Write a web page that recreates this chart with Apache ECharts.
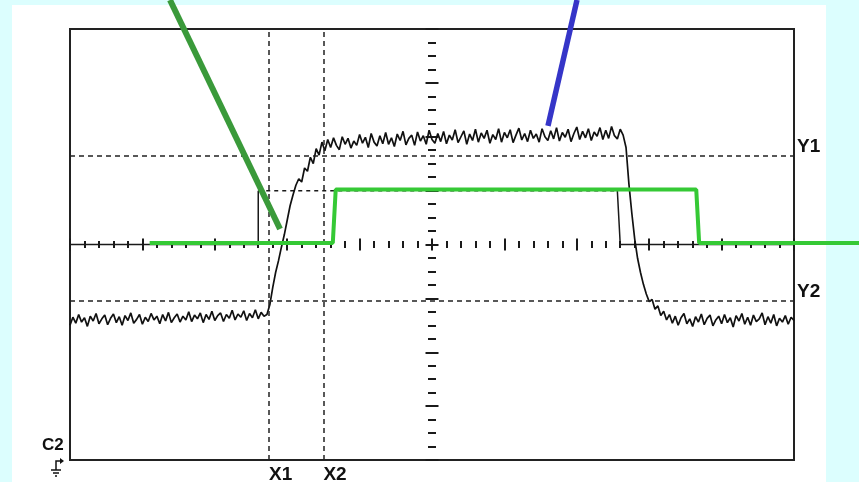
<!DOCTYPE html>
<html>
<head>
<meta charset="utf-8">
<script src="https://cdn.jsdelivr.net/npm/echarts@6/dist/echarts.min.js"></script>
<style>
  html, body { margin: 0; padding: 0; background: #dcfefe; }
  #scope { width: 859px; height: 482px; }
</style>
</head>
<body>
<div id="scope"></div>
<script>
// Scope screen: 10 horizontal divisions (-5..5), 8 vertical divisions (-4..4)
const sampleStart = -5;
const sampleStep = 0.04;

// Channel 2 record (divisions), split into its stretches
const ch2LowLeft = [
  -1.50,-1.35,-1.46,-1.30,-1.44,-1.36,-1.52,-1.33,-1.42,-1.28,
  -1.47,-1.38,-1.31,-1.49,-1.37,-1.29,-1.45,-1.34,-1.50,-1.32,
  -1.41,-1.27,-1.46,-1.39,-1.30,-1.48,-1.35,-1.43,-1.28,-1.40,
  -1.33,-1.47,-1.30,-1.42,-1.26,-1.45,-1.36,-1.29,-1.44,-1.33,
  -1.40,-1.25,-1.43,-1.31,-1.38,-1.27,-1.45,-1.30,-1.39,-1.24,
  -1.41,-1.32,-1.27,-1.43,-1.30,-1.37,-1.22,-1.40,-1.29,-1.35,
  -1.23,-1.41,-1.28,-1.36,-1.21,-1.38,-1.26,-1.33,-1.30
];
const ch2Rise = [
  -1.12,-0.80,-0.52,-0.30,-0.05,0.18,0.45,0.72,0.92,1.10,
  1.22,1.16,1.42,1.36,1.62,1.50,1.78,1.66,1.90,1.74
];
const ch2High = [
  1.95,1.80,1.98,1.84,1.76,2.00,1.86,1.97,1.79,1.92,
  1.84,2.04,1.88,1.99,1.80,2.06,1.90,1.83,2.02,1.87,
  2.08,1.86,1.98,1.82,2.05,1.93,2.10,1.85,1.97,2.03,
  1.84,2.09,1.92,2.02,1.86,2.12,1.95,1.88,2.06,1.91,
  2.10,1.87,2.03,1.94,2.13,1.89,2.00,2.11,1.86,2.05,
  1.93,2.14,1.90,2.07,1.97,2.12,1.88,2.04,1.95,2.15,
  1.90,2.08,1.98,2.13,1.89,2.03,2.16,1.94,2.06,1.91,
  2.12,1.97,2.05,1.90,2.15,2.00,1.93,2.11,1.96,2.17,
  1.92,2.08,1.99,2.14,1.91,2.06,2.18,1.95,2.10,1.98,
  2.15,1.93,2.09,2.01,2.17,1.95,2.12,1.97,2.19,2.02,
  1.96,2.14,2.03
];
const ch2Fall = [
  1.80,1.12,0.58,0.10,-0.26,-0.52,-0.74,-0.92,-1.06,-1.02,
  -1.20,-1.14,-1.32,-1.24,-1.40
];
const ch2LowRight = [
  -1.30,-1.46,-1.33,-1.50,-1.36,-1.28,-1.47,-1.38,-1.52,-1.34,
  -1.44,-1.29,-1.49,-1.37,-1.31,-1.51,-1.40,-1.33,-1.47,-1.30,
  -1.45,-1.36,-1.53,-1.32,-1.42,-1.28,-1.48,-1.35,-1.50,-1.31,
  -1.43,-1.38,-1.27,-1.49,-1.34,-1.46,-1.30,-1.51,-1.37,-1.44,
  -1.32,-1.48,-1.35,-1.41
];

// Channel 1 gate pulse (divisions)
const ch1Pulse = [[-5, 0], [-2.40, 0], [-2.40, 1.0], [2.56, 1.0], [2.60, 0], [5, 0]];

// Cursor positions
const cursorsX = [['X1', -2.25], ['X2', -1.5]];
const cursorsY = [['Y1', 1.64], ['Y2', -1.05]];

// Annotation strokes, in the same division units, on a layer spanning the whole page
const pageSpanX = [-5.967, 5.898];
const pageSpanY = [-4.408, 4.538];
const pointerDark = [[-3.619, 4.538], [-2.099, 0.288]];
const pointerBlue = [[2.003, 4.538], [1.602, 2.20]];
const gateStep = [[-3.90, 0.03], [-1.37, 0.03], [-1.33, 1.02], [3.65, 1.02], [3.69, 0.03], [5.898, 0.03]];

const ch2Values = [].concat(ch2LowLeft, ch2Rise, ch2High, ch2Fall, ch2LowRight);
const ch2Data = ch2Values.map((v, i) => [+(sampleStart + i * sampleStep).toFixed(2), v]);

const ink = '#1a1a1a';
const labelFont = { color: '#111', fontFamily: 'Liberation Sans, Arial, sans-serif', fontWeight: 'bold', fontSize: 19 };

function hAxis(pos, idx) {
  return {
    gridIndex: 0, type: 'value', min: -5, max: 5, interval: 1, position: pos,
    axisLine: { show: true, onZero: true, onZeroAxisIndex: idx, lineStyle: { opacity: 0 } },
    axisTick: { show: true, inside: false, length: 6, lineStyle: { color: ink, width: 2 } },
    minorTick: { show: true, splitNumber: 5, length: 3.5, lineStyle: { color: ink, width: 2 } },
    axisLabel: { show: false }, splitLine: { show: false }, minorSplitLine: { show: false }
  };
}
function vAxis(pos, idx) {
  return {
    gridIndex: 0, type: 'value', min: -4, max: 4, interval: 1, position: pos,
    axisLine: { show: true, onZero: true, onZeroAxisIndex: idx, lineStyle: { opacity: 0 } },
    axisTick: { show: true, inside: false, length: 6.5, lineStyle: { color: ink, width: 2 } },
    minorTick: { show: true, splitNumber: 4, length: 4, lineStyle: { color: ink, width: 2 } },
    axisLabel: { show: false }, splitLine: { show: false }, minorSplitLine: { show: false }
  };
}
const hiddenAxis = (span) => ({
  gridIndex: 1, type: 'value', min: span[0], max: span[1], show: false,
  axisLine: { onZero: false }, splitLine: { show: false }
});

const chart = echarts.init(document.getElementById('scope'), null, { renderer: 'canvas' });

chart.setOption({
  animation: false,
  backgroundColor: '#dcfefe',
  graphic: [
    { type: 'rect', z: -10, shape: { x: 12, y: 5, width: 814, height: 480 }, style: { fill: '#ffffff' } },
    { type: 'text', left: 42, top: 437, style: { text: 'C2', fill: '#111', font: 'bold 17px "Liberation Sans", Arial, sans-serif' } },
    { type: 'polyline', shape: { points: [[61, 461], [56, 461], [56, 470]] }, style: { stroke: '#111', lineWidth: 1.5, fill: null } },
    { type: 'polygon', shape: { points: [[60, 458], [64, 461], [60, 464]] }, style: { fill: '#111' } },
    { type: 'line', shape: { x1: 51, y1: 470, x2: 61, y2: 470 }, style: { stroke: '#111', lineWidth: 1.5 } },
    { type: 'line', shape: { x1: 53, y1: 473, x2: 59, y2: 473 }, style: { stroke: '#111', lineWidth: 1.5 } },
    { type: 'line', shape: { x1: 55, y1: 476, x2: 57, y2: 476 }, style: { stroke: '#111', lineWidth: 1.5 } }
  ],
  grid: [
    { left: 70, top: 29, width: 724, height: 431, show: true, borderColor: '#222', borderWidth: 2, backgroundColor: 'transparent' },
    { left: 0, top: 0, width: 859, height: 482, show: false }
  ],
  xAxis: [hAxis('bottom', 0), hAxis('top', 1), hiddenAxis(pageSpanX)],
  yAxis: [vAxis('left', 0), vAxis('right', 1), hiddenAxis(pageSpanY)],
  series: [
    {
      name: 'CH1', type: 'line', data: ch1Pulse.slice(0, 3), symbol: 'none', z: 3,
      lineStyle: { color: ink, width: 1.5 },
      markLine: {
        silent: true, symbol: 'none', animation: false,
        lineStyle: { color: '#222', width: 1.5, type: [5, 4] },
        data: [
          ...cursorsX.map(([n, v]) => ({
            name: n, xAxis: v,
            label: Object.assign({ show: true, position: 'start', align: 'left', distance: 5, formatter: '{b}' }, labelFont)
          })),
          ...cursorsY.map(([n, v]) => ({
            name: n, yAxis: v,
            label: Object.assign({ show: true, position: 'end', align: 'left', verticalAlign: 'bottom', distance: 3, formatter: '{b}' }, labelFont)
          }))
        ]
      }
    },
    {
      name: 'CH1 top', type: 'line', data: ch1Pulse.slice(2, 4), symbol: 'none', z: 3,
      lineStyle: { color: ink, width: 1.5, type: [4, 4] }
    },
    {
      name: 'CH1 tail', type: 'line', data: ch1Pulse.slice(3), symbol: 'none', z: 3,
      lineStyle: { color: ink, width: 1.5 }
    },
    {
      name: 'CH2', type: 'line', data: ch2Data, symbol: 'none', z: 4,
      lineStyle: { color: '#111', width: 1.7 }
    },
    {
      name: 'gate', type: 'line', xAxisIndex: 2, yAxisIndex: 2, data: gateStep, symbol: 'none', clip: false, z: 6,
      lineStyle: { color: '#35c935', width: 4 }
    },
    {
      name: 'pointer A', type: 'line', xAxisIndex: 2, yAxisIndex: 2, data: pointerDark, symbol: 'none', clip: false, z: 7,
      lineStyle: { color: '#3a9a3a', width: 6, cap: 'butt' }
    },
    {
      name: 'pointer B', type: 'line', xAxisIndex: 2, yAxisIndex: 2, data: pointerBlue, symbol: 'none', clip: false, z: 7,
      lineStyle: { color: '#3535c8', width: 5.5, cap: 'butt' }
    }
  ]
});
</script>
</body>
</html>
